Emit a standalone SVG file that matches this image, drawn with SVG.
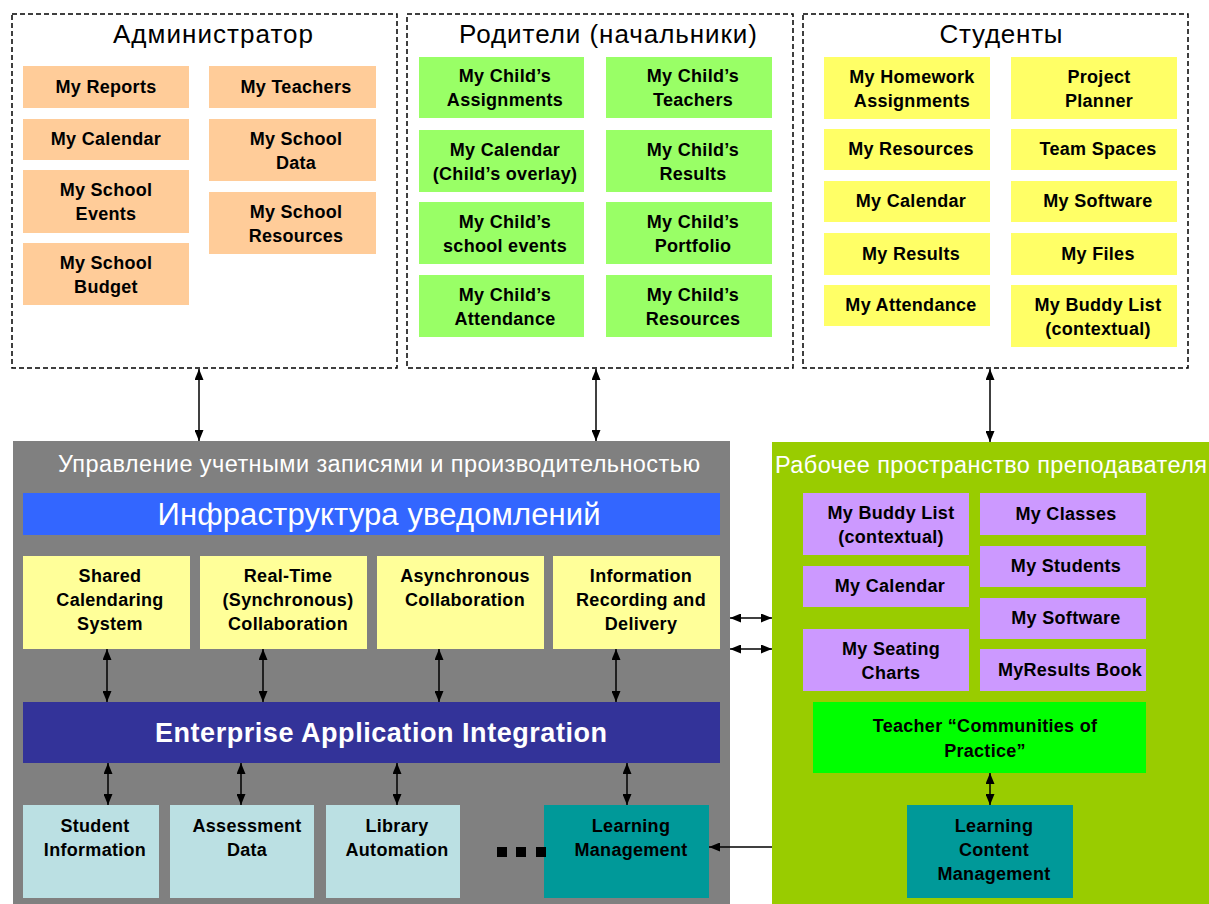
<svg xmlns="http://www.w3.org/2000/svg" width="1209" height="904" viewBox="0 0 1209 904">
<style>
text{font-family:"Liberation Sans",Arial,sans-serif}
.t{font-weight:bold;font-size:18px;letter-spacing:0.3px;text-anchor:middle;fill:#000}
.ttl{font-size:26px;text-anchor:middle;fill:#000}
.wt{font-size:23.5px;fill:#fff}
.dash{fill:#fff;stroke:#000;stroke-width:1.5;stroke-dasharray:5 3}
.peach{fill:#FFCC99}.lgreen{fill:#99FF66}.yel{fill:#FFFF66}.lyel{fill:#FFFF99}
.purp{fill:#CC99FF}.lblue{fill:#BBE0E3}.teal{fill:#009999}
.ln{stroke:#000;stroke-width:1.5;fill:none}
.dbl{marker-start:url(#ah);marker-end:url(#ah)}
.one{marker-end:url(#ah)}
</style>
<defs>
<marker id="ah" viewBox="0 0 11 9" refX="11" refY="4.5" markerWidth="11" markerHeight="9" markerUnits="userSpaceOnUse" orient="auto-start-reverse">
<path d="M0,0 L11,4.5 L0,9 z" fill="#000"/>
</marker>
</defs>
<rect width="1209" height="904" fill="#fff"/>

<g id="admin">
<rect class="dash" x="12" y="14" width="385" height="354"/>
<text class="ttl" x="213" y="43" textLength="200">Администратор</text>
<g id="a-reports"><rect class="peach" x="23" y="66" width="166" height="42"/><text class="t" x="106" y="92.5">My Reports</text></g>
<g id="a-calendar"><rect class="peach" x="23" y="119" width="166" height="41"/><text class="t" x="106" y="145">My Calendar</text></g>
<g id="a-events"><rect class="peach" x="23" y="170" width="166" height="63"/><text class="t" x="106" y="196">My School</text><text class="t" x="106" y="220">Events</text></g>
<g id="a-budget"><rect class="peach" x="23" y="243" width="166" height="62"/><text class="t" x="106" y="268.5">My School</text><text class="t" x="106" y="292.5">Budget</text></g>
<g id="a-teachers"><rect class="peach" x="209" y="66" width="167" height="42"/><text class="t" x="296" y="92.5">My Teachers</text></g>
<g id="a-data"><rect class="peach" x="209" y="119" width="167" height="62"/><text class="t" x="296" y="144.5">My School</text><text class="t" x="296" y="168.5">Data</text></g>
<g id="a-resources"><rect class="peach" x="209" y="192" width="167" height="62"/><text class="t" x="296" y="217.5">My School</text><text class="t" x="296" y="241.5">Resources</text></g>
</g>

<g id="parents">
<rect class="dash" x="407" y="14" width="386" height="354"/>
<text class="ttl" x="608" y="43" textLength="298">Родители (начальники)</text>
<g id="p1"><rect class="lgreen" x="419" y="57" width="165" height="61"/><text class="t" x="505" y="82">My Child’s</text><text class="t" x="505" y="106">Assignments</text></g>
<g id="p2"><rect class="lgreen" x="419" y="130" width="165" height="62"/><text class="t" x="505" y="155.5">My Calendar</text><text class="t" x="505" y="179.5">(Child’s overlay)</text></g>
<g id="p3"><rect class="lgreen" x="419" y="202" width="165" height="62"/><text class="t" x="505" y="227.5">My Child’s</text><text class="t" x="505" y="251.5">school events</text></g>
<g id="p4"><rect class="lgreen" x="419" y="275" width="165" height="62"/><text class="t" x="505" y="300.5">My Child’s</text><text class="t" x="505" y="324.5">Attendance</text></g>
<g id="p5"><rect class="lgreen" x="606" y="57" width="166" height="61"/><text class="t" x="693" y="82">My Child’s</text><text class="t" x="693" y="106">Teachers</text></g>
<g id="p6"><rect class="lgreen" x="606" y="130" width="166" height="62"/><text class="t" x="693" y="155.5">My Child’s</text><text class="t" x="693" y="179.5">Results</text></g>
<g id="p7"><rect class="lgreen" x="606" y="202" width="166" height="62"/><text class="t" x="693" y="227.5">My Child’s</text><text class="t" x="693" y="251.5">Portfolio</text></g>
<g id="p8"><rect class="lgreen" x="606" y="275" width="166" height="62"/><text class="t" x="693" y="300.5">My Child’s</text><text class="t" x="693" y="324.5">Resources</text></g>
</g>

<g id="students">
<rect class="dash" x="803" y="14" width="385" height="354"/>
<text class="ttl" x="1001" y="43" textLength="123">Студенты</text>
<g id="s1"><rect class="yel" x="824" y="57" width="166" height="62"/><text class="t" x="912" y="82.5">My Homework</text><text class="t" x="912" y="106.5">Assignments</text></g>
<g id="s2"><rect class="yel" x="824" y="129" width="166" height="41"/><text class="t" x="911" y="155">My Resources</text></g>
<g id="s3"><rect class="yel" x="824" y="181" width="166" height="41"/><text class="t" x="911" y="207">My Calendar</text></g>
<g id="s4"><rect class="yel" x="824" y="233" width="166" height="42"/><text class="t" x="911" y="259.5">My Results</text></g>
<g id="s5"><rect class="yel" x="824" y="285" width="166" height="41"/><text class="t" x="911" y="311">My Attendance</text></g>
<g id="s6"><rect class="yel" x="1011" y="57" width="166" height="62"/><text class="t" x="1099" y="82.5">Project</text><text class="t" x="1099" y="106.5">Planner</text></g>
<g id="s7"><rect class="yel" x="1011" y="129" width="166" height="41"/><text class="t" x="1098" y="155">Team Spaces</text></g>
<g id="s8"><rect class="yel" x="1011" y="181" width="166" height="41"/><text class="t" x="1098" y="207">My Software</text></g>
<g id="s9"><rect class="yel" x="1011" y="233" width="166" height="42"/><text class="t" x="1098" y="259.5">My Files</text></g>
<g id="s10"><rect class="yel" x="1011" y="285" width="166" height="62"/><text class="t" x="1098" y="310.5">My Buddy List</text><text class="t" x="1098" y="334.5">(contextual)</text></g>
</g>

<g id="mgmt">
<rect x="13" y="441" width="717" height="463" fill="#808080"/>
<text class="wt" x="58" y="472" textLength="642">Управление учетными записями и производительностью</text>
<g id="notify"><rect x="23" y="493" width="697" height="42" fill="#3366FF"/><text x="379" y="524.5" font-size="31" fill="#fff" text-anchor="middle" textLength="443">Инфраструктура уведомлений</text></g>
<g id="m1"><rect class="lyel" x="23" y="556" width="167" height="93"/><text class="t" x="110" y="582">Shared</text><text class="t" x="110" y="606">Calendaring</text><text class="t" x="110" y="630">System</text></g>
<g id="m2"><rect class="lyel" x="200" y="556" width="167" height="93"/><text class="t" x="288" y="582">Real-Time</text><text class="t" x="288" y="606">(Synchronous)</text><text class="t" x="288" y="630">Collaboration</text></g>
<g id="m3"><rect class="lyel" x="377" y="556" width="167" height="93"/><text class="t" x="465" y="582">Asynchronous</text><text class="t" x="465" y="606">Collaboration</text></g>
<g id="m4"><rect class="lyel" x="553" y="556" width="167" height="93"/><text class="t" x="641" y="582">Information</text><text class="t" x="641" y="606">Recording and</text><text class="t" x="641" y="630">Delivery</text></g>
<g id="eai"><rect x="23" y="702" width="697" height="61" fill="#333399"/><text x="381" y="742" font-size="27" font-weight="bold" fill="#fff" text-anchor="middle" textLength="452">Enterprise Application  Integration</text></g>
<g id="b1"><rect class="lblue" x="23" y="805" width="136" height="93"/><text class="t" x="95" y="832">Student</text><text class="t" x="95" y="856">Information</text></g>
<g id="b2"><rect class="lblue" x="170" y="805" width="144" height="93"/><text class="t" x="247" y="832">Assessment</text><text class="t" x="247" y="856">Data</text></g>
<g id="b3"><rect class="lblue" x="326" y="805" width="134" height="93"/><text class="t" x="397" y="832">Library</text><text class="t" x="397" y="856">Automation</text></g>
<g id="b4"><rect class="teal" x="544" y="805" width="165" height="93"/><text class="t" x="631" y="832">Learning</text><text class="t" x="631" y="856">Management</text></g>
<g id="dots" fill="#000"><rect x="497" y="847" width="10" height="10"/><rect x="516" y="847" width="10" height="10"/><rect x="536" y="847" width="10" height="10"/></g>
</g>

<g id="teacher">
<rect x="772" y="442" width="437" height="462" fill="#99CC00"/>
<text class="wt" x="775" y="473" textLength="432">Рабочее пространство преподавателя</text>
<g id="t1"><rect class="purp" x="803" y="493" width="166" height="62"/><text class="t" x="891" y="518.5">My Buddy List</text><text class="t" x="891" y="542.5">(contextual)</text></g>
<g id="t2"><rect class="purp" x="803" y="566" width="166" height="41"/><text class="t" x="890" y="592">My Calendar</text></g>
<g id="t3"><rect class="purp" x="803" y="629" width="166" height="62"/><text class="t" x="891" y="654.5">My Seating</text><text class="t" x="891" y="678.5">Charts</text></g>
<g id="t4"><rect class="purp" x="980" y="493" width="166" height="42"/><text class="t" x="1066" y="519.5">My Classes</text></g>
<g id="t5"><rect class="purp" x="980" y="546" width="166" height="41"/><text class="t" x="1066" y="572">My Students</text></g>
<g id="t6"><rect class="purp" x="980" y="598" width="166" height="41"/><text class="t" x="1066" y="624">My Software</text></g>
<g id="t7"><rect class="purp" x="980" y="649" width="166" height="42"/><text class="t" x="1070" y="675.5">MyResults Book</text></g>
<g id="t8"><rect x="813" y="702" width="333" height="71" fill="#00FF00"/><text class="t" x="985" y="732">Teacher “Communities of</text><text class="t" x="985" y="757">Practice”</text></g>
<g id="t9"><rect class="teal" x="907" y="805" width="166" height="93"/><text class="t" x="994" y="832">Learning</text><text class="t" x="994" y="856">Content</text><text class="t" x="994" y="880">Management</text></g>
</g>

<g id="connectors">
<line class="ln dbl" x1="199" y1="369" x2="199" y2="441"/>
<line class="ln dbl" x1="596" y1="369" x2="596" y2="441"/>
<line class="ln dbl" x1="990" y1="369" x2="990" y2="442"/>
<line class="ln dbl" x1="107" y1="649" x2="107" y2="702"/>
<line class="ln dbl" x1="263" y1="649" x2="263" y2="702"/>
<line class="ln dbl" x1="439" y1="649" x2="439" y2="702"/>
<line class="ln dbl" x1="616" y1="649" x2="616" y2="702"/>
<line class="ln dbl" x1="108" y1="763" x2="108" y2="805"/>
<line class="ln dbl" x1="241" y1="763" x2="241" y2="805"/>
<line class="ln dbl" x1="397" y1="763" x2="397" y2="805"/>
<line class="ln dbl" x1="627" y1="763" x2="627" y2="805"/>
<line class="ln dbl" x1="730" y1="618" x2="772" y2="618"/>
<line class="ln dbl" x1="730" y1="649" x2="772" y2="649"/>
<line class="ln one" x1="772" y1="847" x2="709" y2="847"/>
<line class="ln dbl" x1="990" y1="773" x2="990" y2="805"/>
</g>
</svg>
